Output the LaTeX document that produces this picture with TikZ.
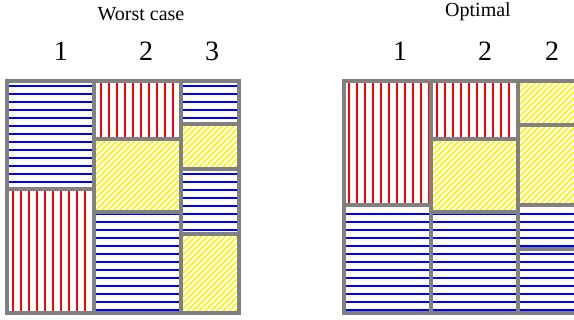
\documentclass[tikz,border=0pt]{standalone}
\usepackage{fontspec}
\setmainfont{Liberation Serif}
\tikzset{
  boxframe/.style={draw=gray,line width=1.6pt},
  bluehatch/.style={draw=blue,line width=0.6pt},
  redhatch/.style={draw=red,line width=0.6pt},
  yellowhatch/.style={draw=yellow,line width=0.75pt},
  titletext/.style={font=\fontsize{10}{12}\selectfont,anchor=base,inner sep=0pt},
  numtext/.style={font=\fontsize{14}{16}\selectfont,anchor=base,inner sep=0pt},
}
\newcommand\hbx[4]{\begin{scope}\clip (#1,#2) rectangle (#3,#4);
  \foreach \yy in {6,14,...,318} {\draw[bluehatch] (#1-2,\yy) -- (#3+2,\yy);}
  \end{scope}}
\newcommand\vbx[4]{\begin{scope}\clip (#1,#2) rectangle (#3,#4);
  \foreach \xx in {5,13,...,581} {\draw[redhatch] (\xx,#2-2) -- (\xx,#4+2);}
  \end{scope}}
\newcommand\dbx[4]{\begin{scope}\clip (#1,#2) rectangle (#3,#4);
  \foreach \cc in {0,6,...,912} {\draw[yellowhatch] ({\cc-330},330) -- (\cc,0);}
  \end{scope}}
\newcommand\frm[4]{\draw[boxframe] (#1,#2) rectangle (#3,#4);}
\begin{document}
\begin{tikzpicture}[x=0.5pt,y=-0.5pt]
\useasboundingbox (0,0) rectangle (574,320);
\clip (0,0) rectangle (574,320);
% left square
\hbx{7}{81}{94}{189}
\vbx{7}{189}{94}{313}
\vbx{94}{81}{181}{139}
\dbx{94}{139}{181}{212}
\hbx{94}{212}{181}{313}
\hbx{181}{81}{239}{124}
\dbx{181}{124}{239}{169}
\hbx{181}{169}{239}{234}
\dbx{181}{234}{239}{313}
% right square
\vbx{344}{81}{431}{205}
\hbx{344}{205}{431}{313}
\vbx{431}{81}{518}{139}
\dbx{431}{139}{518}{212}
\hbx{431}{212}{518}{313}
\dbx{518}{81}{576}{125}
\dbx{518}{125}{576}{205}
\hbx{518}{205}{576}{249}
\hbx{518}{249}{576}{313}
% frames
\frm{7}{81}{94}{189}
\frm{7}{189}{94}{313}
\frm{94}{81}{181}{139}
\frm{94}{139}{181}{212}
\frm{94}{212}{181}{313}
\frm{181}{81}{239}{124}
\frm{181}{124}{239}{169}
\frm{181}{169}{239}{234}
\frm{181}{234}{239}{313}
\frm{344}{81}{431}{205}
\frm{344}{205}{431}{313}
\frm{431}{81}{518}{139}
\frm{431}{139}{518}{212}
\frm{431}{212}{518}{313}
\frm{518}{81}{576}{125}
\frm{518}{125}{576}{205}
\frm{518}{205}{576}{249}
\frm{518}{249}{576}{313}
% labels
\node[titletext] (tworst) at (141,20.5) {Worst case};
\node[titletext] (topt) at (478,17) {Optimal};
\node[numtext] (l1) at (61,60.5) {1};
\node[numtext] (l2) at (146,60.5) {2};
\node[numtext] (l3) at (212,60.5) {3};
\node[numtext] (r1) at (400,60.5) {1};
\node[numtext] (r2) at (485,60.5) {2};
\node[numtext] (r3) at (552,60.5) {2};
\end{tikzpicture}
\end{document}
